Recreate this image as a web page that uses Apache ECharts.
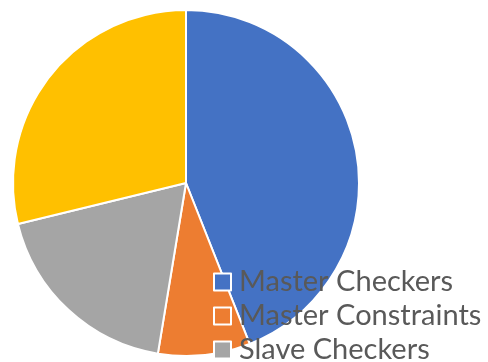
<!DOCTYPE html>
<html><head><meta charset="utf-8">
<script src="https://cdn.jsdelivr.net/npm/echarts@6/dist/echarts.min.js"></script>
<style>html,body{margin:0;padding:0;background:#fff}#c{width:488px;height:362px}</style>
</head><body><div id="c"></div>
<script>
const categories = ["Master Checkers", "Master Constraints", "Slave Checkers", "Slave Constraints"];
const values = [44.0, 8.6, 18.6, 28.8];
const colors = ["#4472C4", "#ED7D31", "#A5A5A5", "#FFC000"];

const chart = echarts.init(document.getElementById('c'), null, {renderer: 'canvas'});
chart.setOption({
  animation: false,
  color: colors,
  legend: {
    orient: 'vertical',
    left: 213, top: 267,
    height: 200,
    itemWidth: 17, itemHeight: 17,
    itemGap: 4,
    icon: 'rect',
    data: categories,
    textStyle: {fontFamily: 'Lato', fontSize: 29, color: '#595959', lineHeight: 30, padding: [0,0,0,3]},
    selectedMode: false,
    padding: 0
  },
  series: [{
    type: 'pie',
    center: [186, 183],
    radius: [0, 173],
    startAngle: 90,
    clockwise: true,
    label: {show: false},
    labelLine: {show: false},
    emphasis: {disabled: true},
    itemStyle: {borderColor: '#fff', borderWidth: 2},
    data: categories.map((n, i) => ({name: n, value: values[i]}))
  }]
});
</script></body></html>
